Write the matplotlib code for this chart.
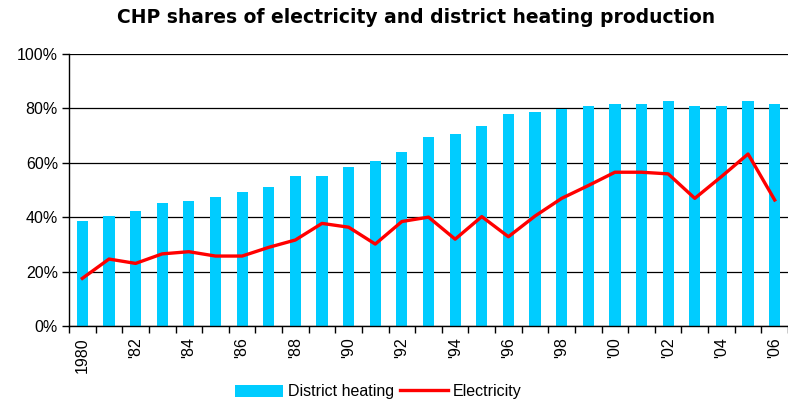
import matplotlib.pyplot as plt
from matplotlib.ticker import FuncFormatter

years = list(range(1980, 2007))
district_heating = [38.6, 40.4, 42.3, 45.3, 46.0, 47.3, 49.1, 50.9, 55.3, 55.3,
                    58.3, 60.8, 63.8, 69.4, 70.6, 73.6, 77.9, 78.6, 79.8, 81.0,
                    81.6, 81.6, 82.8, 81.0, 81.0, 82.8, 81.6]
electricity = [17.5, 24.6, 23.0, 26.5, 27.3, 25.7, 25.7, 28.9, 31.6, 37.7,
               36.3, 30.1, 38.4, 40.0, 31.9, 40.2, 32.8, 40.4, 46.9, 51.6,
               56.5, 56.5, 55.9, 46.9, 54.9, 63.2, 46.3]
year_labels = ['1980' if y == 1980 else "'%02d" % (y % 100) if y % 2 == 0 else ''
               for y in years]

plt.rcParams['font.family'] = ['Liberation Sans', 'DejaVu Sans']

fig = plt.figure(figsize=(7.88, 4.08), dpi=100)
ax = fig.add_axes([0.0876, 0.201, 0.9124, 0.667])

x = list(range(len(years)))
bars = ax.bar(x, district_heating, width=0.42, color='#00CCFF', label='District heating', zorder=2)
line, = ax.plot(x, electricity, color='#FF0000', linewidth=2.4, label='Electricity', zorder=3)

ax.set_ylim(0, 100)
ax.set_xlim(-0.5, 26.13)
ax.set_yticks([0, 20, 40, 60, 80, 100])
ax.yaxis.set_major_formatter(FuncFormatter(lambda v, p: '%d%%' % v))
ax.grid(axis='y', color='black', linewidth=0.9, zorder=1)
ax.set_axisbelow(True)

# labels at bar centres, tick marks at category boundaries
ax.set_xticks(x)
ax.set_xticklabels(year_labels, rotation=90, fontsize=11.5)
ax.tick_params(axis='x', which='major', length=0, pad=8)
ax.set_xticks([i - 0.5 for i in range(len(years) + 1)], minor=True)
ax.tick_params(axis='x', which='minor', length=5, width=1, color='black')
ax.tick_params(axis='y', length=5, width=1, labelsize=11.5, pad=3)

for side in ['top', 'right']:
    ax.spines[side].set_visible(False)
ax.spines['left'].set_linewidth(1)
ax.spines['bottom'].set_linewidth(1)

fig.text(0.528, 0.957, 'CHP shares of electricity and district heating production',
         ha='center', va='center', fontsize=13.5, fontweight='bold', family='DejaVu Sans')

fig.legend([bars, line], ['District heating', 'Electricity'], loc='center',
           bbox_to_anchor=(0.48, 0.04), ncol=2, frameon=False,
           fontsize=11.5, handlelength=3.0, handleheight=0.8, columnspacing=0.4,
           handletextpad=0.3)

fig.savefig('out.png', dpi=100)
